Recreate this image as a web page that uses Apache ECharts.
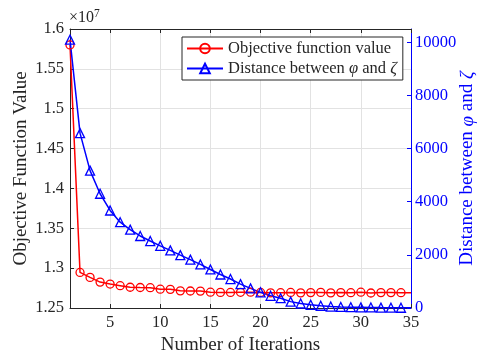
<!DOCTYPE html>
<html>
<head>
<meta charset="utf-8">
<script src="https://cdn.jsdelivr.net/npm/echarts@6/dist/echarts.min.js"></script>
<style>
html,body{margin:0;padding:0;background:#fff;}
#chart{width:478px;height:351px;}
</style>
</head>
<body>
<div id="chart"></div>
<script>
// Data
const iterations = [1,2,3,4,5,6,7,8,9,10,11,12,13,14,15,16,17,18,19,20,21,22,23,24,25,26,27,28,29,30,31,32,33,34,35];
// Objective function value (x 10^7)
const objectiveValues = [1.580,1.2946,1.2884,1.2825,1.2800,1.2780,1.2760,1.2757,1.2755,1.2736,1.2734,1.2715,1.2713,1.2712,1.2698,1.2696,1.2695,1.2697,1.2698,1.2695,1.2690,1.2692,1.2695,1.2690,1.2693,1.2696,1.2690,1.2693,1.2692,1.2698,1.2688,1.2693,1.2693,1.2692,1.2692];
// Distance between phi and zeta
const distanceValues = [10100,6580,5170,4300,3670,3230,2950,2710,2520,2340,2170,1990,1820,1640,1450,1260,1090,900,740,590,460,370,240,170,120,85,55,40,30,25,20,15,12,10,8];
const xTicks = [5,10,15,20,25,30,35];
const leftTicks = [1.25,1.3,1.35,1.4,1.45,1.5,1.55,1.6];
const rightTicks = [0,2000,4000,6000,8000,10000];
const seriesNames = ['Objective function value','Distance between φ and ζ'];

const FONT = 'Liberation Serif';
const AX = '#262626';
const TICK_FS = 16.5, TITLE_FS = 19, LEG_FS = 16.5;
const chart = echarts.init(document.getElementById('chart'), null, {renderer:'canvas'});
const last = iterations.length - 1;
const symSize = (s) => (v, p) => p.dataIndex === last ? 0 : s;

chart.setOption({
  animation:false,
  backgroundColor:'#fff',
  grid:{left:70, top:29, right:67, bottom:43, containLabel:false, outerBoundsMode:'none'},
  graphic:[{
    type:'text', left:69, top:8,
    style:{text:'×10{s|7}', font:'16px "'+FONT+'"', fill:AX,
      rich:{s:{fontSize:11.5, fontFamily:FONT, verticalAlign:'top', padding:[0,0,7,0]}}}
  }],
  legend:{
    left:182, top:37, orient:'vertical',
    backgroundColor:'#fff', borderColor:'#262626', borderWidth:1, borderRadius:0,
    padding:[3,6,3,4], itemGap:3, itemWidth:36, itemHeight:12,
    textStyle:{fontFamily:FONT, fontSize:LEG_FS, color:AX,
      rich:{i:{fontStyle:'italic', fontFamily:FONT, fontSize:LEG_FS, color:AX}}},
    formatter:(n)=> n.replace('φ','{i|φ}').replace('ζ','{i|ζ}'),
    data:seriesNames
  },
  xAxis:[{
    type:'value', min:1, max:35, position:'bottom',
    name:'Number of Iterations', nameLocation:'middle', nameGap:28, nameMoveOverlap:false,
    nameTextStyle:{fontFamily:FONT, fontSize:TITLE_FS, color:AX},
    axisLine:{lineStyle:{color:AX, width:1}},
    axisTick:{inside:true, length:4, customValues:xTicks, lineStyle:{color:AX}},
    axisLabel:{customValues:xTicks, fontFamily:FONT, fontSize:TICK_FS, color:AX, margin:6},
    splitLine:{show:true, lineStyle:{color:'#e2e2e2', width:1}}
  },{
    type:'value', min:1, max:35, position:'top',
    axisLine:{lineStyle:{color:AX, width:1}},
    axisTick:{inside:true, length:4, customValues:xTicks, lineStyle:{color:AX}},
    axisLabel:{show:false}, splitLine:{show:false}
  }],
  yAxis:[{
    type:'value', min:1.25, max:1.6, interval:0.05, position:'left',
    name:'Objective Function Value', nameLocation:'middle', nameGap:39, nameRotate:90, nameMoveOverlap:false,
    nameTextStyle:{fontFamily:FONT, fontSize:TITLE_FS, color:AX},
    axisLine:{show:true, lineStyle:{color:AX, width:1}},
    axisTick:{show:true, inside:true, length:4, customValues:leftTicks, lineStyle:{color:AX}},
    axisLabel:{customValues:leftTicks, fontFamily:FONT, fontSize:TICK_FS, color:AX, margin:6,
      formatter:(v)=> String(+v.toFixed(2))},
    splitLine:{show:true, lineStyle:{color:'#e2e2e2', width:1}}
  },{
    type:'value', min:0, max:10500, position:'right',
    name:'Distance between {i|φ} and {i|ζ}', nameLocation:'middle', nameGap:47, nameRotate:90, nameMoveOverlap:false,
    nameTextStyle:{fontFamily:FONT, fontSize:TITLE_FS, color:'#0000ff',
      rich:{i:{fontStyle:'italic', fontFamily:FONT, fontSize:TITLE_FS, color:'#0000ff'}}},
    axisLine:{show:true, lineStyle:{color:'#0000ff', width:1}},
    axisTick:{show:true, inside:true, length:4, customValues:rightTicks, lineStyle:{color:'#0000ff'}},
    axisLabel:{customValues:rightTicks, fontFamily:FONT, fontSize:TICK_FS, color:'#0000ff', margin:4,
      formatter:(v)=> String(v)},
    splitLine:{show:false}
  }],
  series:[{
    name:seriesNames[0], type:'line', xAxisIndex:0, yAxisIndex:0,
    data:iterations.map((x,i)=>[x, objectiveValues[i]]),
    color:'#ff0000', symbol:'circle', symbolSize:symSize(8), showAllSymbol:true,
    itemStyle:{color:'rgba(255,255,255,0)', borderColor:'#ff0000', borderWidth:1.3},
    lineStyle:{color:'#ff0000', width:1.5}, clip:true
  },{
    name:seriesNames[1], type:'line', xAxisIndex:0, yAxisIndex:1,
    data:iterations.map((x,i)=>[x, distanceValues[i]]),
    color:'#0000ff', symbol:'triangle', symbolSize:symSize(9), showAllSymbol:true,
    itemStyle:{color:'rgba(255,255,255,0)', borderColor:'#0000ff', borderWidth:1.3},
    lineStyle:{color:'#0000ff', width:1.5}, clip:true
  }]
});
</script>
</body>
</html>
